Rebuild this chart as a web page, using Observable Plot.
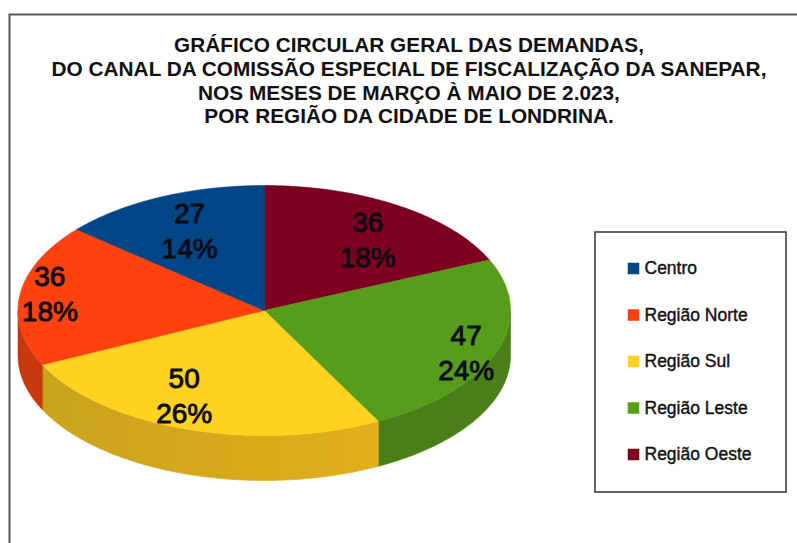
<!DOCTYPE html>
<html>
<head>
<meta charset="utf-8">
<script src="https://cdn.jsdelivr.net/npm/d3@7"></script>
<script src="https://cdn.jsdelivr.net/npm/@observablehq/plot@0.6"></script>
<style>
html,body{margin:0;padding:0;background:#fff;overflow:hidden}
svg{display:block}
</style>
</head>
<body>
<div id="chart"></div>
<script>
// Data, in legend order
const categories = ["Centro", "Região Norte", "Região Sul", "Região Leste", "Região Oeste"];
const values = [27, 36, 50, 47, 36];
const percents = ["14%", "18%", "26%", "24%", "18%"];
const topColors = ["#004586", "#ff420e", "#ffd320", "#579d1c", "#7e0021"];
const sideColors = ["#00305e", "#c5390c", "url(#sulSide)", "#4a7f17", "#580017"];
const titleLines = [
  "GRÁFICO CIRCULAR GERAL DAS DEMANDAS,",
  "DO CANAL DA COMISSÃO ESPECIAL DE FISCALIZAÇÃO DA SANEPAR,",
  "NOS MESES DE MARÇO À MAIO DE 2.023,",
  "POR REGIÃO DA CIDADE DE LONDRINA."
];
// Slices run clockwise from twelve o'clock in this order
const drawOrder = [4, 3, 2, 1, 0];
// Pixel nudges of the two-line labels, from a point on each slice's bisector
const labelNudge = {0: [8, 10], 1: [-19, -5], 2: [-18, -11], 3: [16, 8], 4: [-4, 12]};

const W = 797, H = 543;
const xRange = [17.5, 510], yRange = [435, 185];     // pie ellipse on the page
const pxY = d3.scaleLinear([-1, 1], yRange), pxX = d3.scaleLinear([-1, 1], xRange);
const depth = (45 / (yRange[0] - yRange[1])) * 2;       // wall height in y units

const total = d3.sum(values);
let acc = 0;
const slices = drawOrder.map(i => {
  const a0 = acc / total * 2 * Math.PI; acc += values[i];
  const a1 = acc / total * 2 * Math.PI;
  return {i, a0, a1};
});
const pt = (a, dz = 0) => [Math.sin(a), Math.cos(a) - dz];
const arc = (a0, a1, dz = 0) => {
  const n = Math.max(2, Math.ceil((a1 - a0) / 0.01));
  return d3.range(n + 1).map(k => pt(a0 + (a1 - a0) * k / n, dz));
};
const toRows = (pts, id, color) => pts.map(([x, y]) => ({x, y, id, color}));

const topRows = slices.flatMap(s =>
  toRows([[0, 0], ...arc(s.a0, s.a1)], "t" + s.i, topColors[s.i]));
const sideRows = slices.flatMap(s => {
  const a0 = Math.max(s.a0, Math.PI / 2), a1 = Math.min(s.a1, 3 * Math.PI / 2);
  if (a1 <= a0) return [];
  return toRows([...arc(a0, a1), ...arc(a0, a1, depth).reverse()], "s" + s.i, sideColors[s.i]);
});

const polygon = (rows) => Plot.line(rows, {
  x: "x", y: "y", z: "id", fill: "color", stroke: "color", strokeWidth: 0.6, curve: "linear-closed"
});

const labels = slices.map(s => {
  const m = (s.a0 + s.a1) / 2, [x, y] = pt(m);
  const [dx, dy] = labelNudge[s.i];
  return Plot.text([`${values[s.i]}\n${percents[s.i]}`], {
    x: [x * 0.8], y: [y * 0.8], text: d => d, dx, dy,
    fontSize: 28, lineHeight: 1.25, fontFamily: "Liberation Sans", fill: "#0a0a14",
    stroke: "#0a0a14", strokeWidth: 0.9
  });
});

// Gradient for the yellow wall, which lightens toward the right
const gradientDefs = () => {
  const defs = d3.create("svg:defs");
  const g = defs.append("linearGradient").attr("id", "sulSide");
  g.append("stop").attr("offset", "0%").attr("stop-color", "#c9a31b");
  g.append("stop").attr("offset", "100%").attr("stop-color", "#e2af1c");
  return defs.node();
};

// Legend box and chart frame: page pixels expressed through the same scales
const ux = px => pxX.invert(px), uy = px => pxY.invert(px);
const legendRows = categories.map((name, i) => ({
  name, color: topColors[i], x: ux(633), y: uy(268 + 46.5 * i), tx: ux(644)
}));

const plot = Plot.plot({
  width: W, height: H, margin: 0,
  style: {background: "#fff", overflow: "hidden"},
  x: {domain: [-1, 1], range: xRange, axis: null},
  y: {domain: [-1, 1], range: yRange, axis: null},
  color: {type: "identity"},
  marks: [
    gradientDefs,
    Plot.rect([0], {x1: ux(9.5), x2: ux(820), y1: uy(14.5), y2: uy(600), fill: "none", stroke: "#555", strokeWidth: 2}),
    polygon(sideRows),
    polygon(topRows),
    ...labels,
    Plot.text([titleLines.join("\n")], {
      frameAnchor: "top", text: d => d, dx: 10, dy: 35, lineAnchor: "top",
      fontSize: 20.8, lineHeight: 1.14, fontFamily: "Liberation Sans", fontWeight: "bold",
      fill: "#111"
    }),
    Plot.rect([0], {x1: ux(595), x2: ux(786), y1: uy(232), y2: uy(492), fill: "#fff", stroke: "#333", strokeWidth: 1.5}),
    Plot.dot(legendRows, {x: "x", y: "y", fill: "color", symbol: "square", r: 6.5}),
    Plot.text(legendRows, {x: "tx", y: "y", text: "name", textAnchor: "start",
      fontSize: 17.5, fontFamily: "Liberation Sans", fill: "#111", stroke: "#111", strokeWidth: 0.4})
  ]
});
document.getElementById("chart").append(plot);
</script>
</body>
</html>
